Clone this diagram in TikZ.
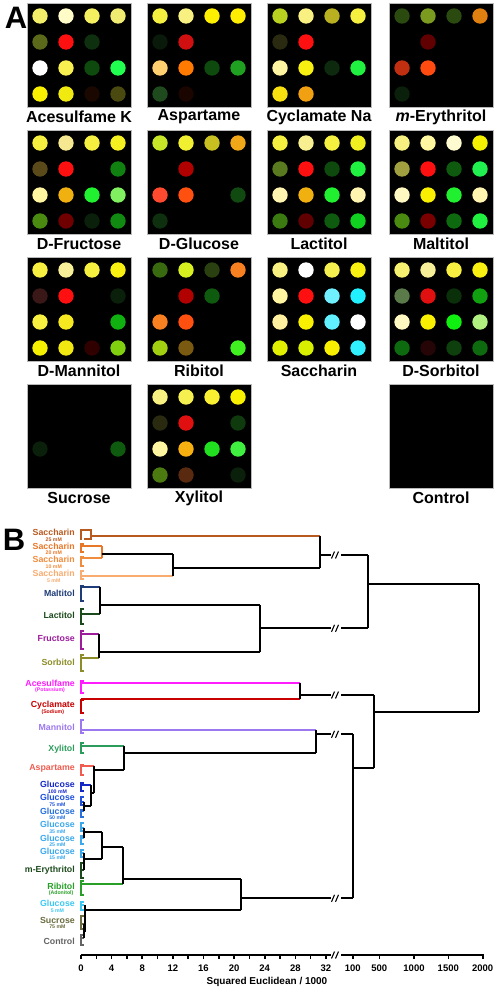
\documentclass[tikz,border=0pt]{standalone}
\usepackage{fontspec}
\setmainfont{Liberation Sans}
\newcommand\mypanel[5]{%
  \node[panelbox] (#1) at (#2+52,#3+52) {};
  \foreach \c [count=\i from 0] in {#5} {
    \pgfmathtruncatemacro\prow{int(\i/4)}
    \pgfmathtruncatemacro\pcol{mod(\i,4)}
    \definecolor{dotc}{HTML}{\c}
    \fill[dotc] (#2+13+26*\pcol, #3+13+26*\prow) circle[radius=7.7pt];
  }
  \node[plabel] (#1-lab) at (#2+52,#3+114) {#4};
}
\newcommand\leaf[4]{\node[leaflab,text=#3] (#1) at (75,#2) {#4};}
\newcommand\leafs[6]{\node[leaflab,text=#3] (#1) at (75,#2-0.5) {#4};
  \node[sublab,text=#3] (#1-s) at (#1.center |- 0,#2+6.3) {#6};}
\newcommand\brk[1]{\fill[white] (331,#1-5) rectangle (341,#1+5);
  \draw[line width=1.1pt] (331.5,#1+3.5) -- (334.5,#1-3.5) (335.5,#1+3.5) -- (338.5,#1-3.5);}
\newcommand\lfb[5]{% color, top, bottom, line y, end x
  \draw[dl,#1] (81,#2) -- (81,#3);
  \draw[dl,#1] (81,#4) -- (#5,#4);
  \draw[line width=1.2pt,#1] (81,#2+1) -- (84,#2+1) (81,#3-1) -- (84,#3-1);}
\definecolor{cSa}{HTML}{B85A20}
\definecolor{cSb}{HTML}{E87828}
\definecolor{cSc}{HTML}{F08C3C}
\definecolor{cSd}{HTML}{F8AC70}
\definecolor{cMal}{HTML}{1E3C78}
\definecolor{cLac}{HTML}{1C4A1C}
\definecolor{cFru}{HTML}{9C1C9C}
\definecolor{cSor}{HTML}{8C8C28}
\definecolor{cAce}{HTML}{FF1CFF}
\definecolor{cCyc}{HTML}{C80000}
\definecolor{cMan}{HTML}{9C78F0}
\definecolor{cXyl}{HTML}{2C9C5C}
\definecolor{cAsp}{HTML}{F05C50}
\definecolor{cGa}{HTML}{1428C8}
\definecolor{cGb}{HTML}{1E50DC}
\definecolor{cGc}{HTML}{2870DC}
\definecolor{cGd}{HTML}{3CA8EC}
\definecolor{cEry}{HTML}{1C4A1C}
\definecolor{cRib}{HTML}{28A028}
\definecolor{cGe}{HTML}{3CC8F0}
\definecolor{cSuc}{HTML}{6C6C40}
\definecolor{cCon}{HTML}{646464}
\begin{document}
\begin{tikzpicture}[x=1pt,y=-1pt,
  panelbox/.style={draw=gray!55, fill=black, line width=0.8pt, minimum width=104pt, minimum height=104pt, inner sep=0pt},
  plabel/.style={font=\fontsize{16}{18}\selectfont\bfseries, inner sep=0pt},
  bigletter/.style={font=\fontsize{31}{34}\selectfont\bfseries, inner sep=0pt},
  leaflab/.style={font=\fontsize{8.8}{10}\selectfont\bfseries, inner sep=0pt, anchor=east},
  sublab/.style={font=\fontsize{5.2}{6}\selectfont\bfseries, inner sep=0pt},
  dl/.style={line width=2pt},
  ticklab/.style={font=\fontsize{9.5}{11}\selectfont\bfseries, inner sep=0pt},
]
\useasboundingbox (0,0) rectangle (498,992);
\node[bigletter] (A) at (16,18) {A};
\node[bigletter] (B) at (14,540) {B};
% Row 1
\mypanel{ace}{27}{3}{Acesulfame K}{F2EE6A,FFFCC8,F5F060,F0EC72, 5A6A1A,FF1010,0F300F,000000, FFFFFF,F8F050,0E4A0E,20FF50, F8F000,F0EA10,1A0800,4A4A10}
\mypanel{asp}{147}{3}{Aspartame}{F5F040,F8F080,FFF000,FFEE00, 0A1A0A,D01010,000000,000000, FFD070,FF7A00,0E4A0E,20A020, 1E4A1E,1A0500,000000,000000}
\mypanel{cyc}{267}{3}{Cyclamate Na}{B8D020,F8F080,B8B020,F5F040, 2A2A10,FF1010,000000,000000, FFF4A0,F8F010,0E2A0E,20F040, F8E010,F0A010,000000,000000}
\mypanel{ery}{389}{3}{\textit{m}-Erythritol}{2A4A10,7A9A20,2A4A10,E08010, 000000,600000,000000,000000, C03010,FF4A10,000000,000000, 0A200A,000000,000000,000000}
% Row 2
\mypanel{fru}{27}{130}{D-Fructose}{F5F040,F5E890,F5F040,F5F020, 5A4A1A,FF1010,000000,108010, FFF4A0,F0B010,20F030,80F060, 4A8A10,700000,0A200A,108A10}
\mypanel{glu}{147}{130}{D-Glucose}{C8E628,F0F030,C8C020,F0A818, 000000,B00000,000000,000000, FF4A30,FF5010,000000,104A10, 0E300E,000000,000000,000000}
\mypanel{lac}{267}{130}{Lactitol}{F5F040,F8F090,F5F040,F0F020, 5A7A20,FF1010,0E4A0E,20F040, FFF4B0,F0B010,20F030,FFF4B0, 3A7A10,600000,0E5A0E,10D020}
\mypanel{mal}{389}{130}{Maltitol}{F5F080,FFF8A0,FFFBD0,F5F000, A0A040,FF1010,0E5A0E,20F050, FFF8C0,F8F000,20F030,FFF4B0, 4A8A10,7A0000,0E6A0E,20F040}
% Row 3
\mypanel{man}{27}{257}{D-Mannitol}{F8F040,F8F098,F5F040,F8F010, 3A1818,FF1010,000000,0A200A, F8F040,F5E820,000000,10B010, F5F000,F0E810,300000,80D010}
\mypanel{rib}{147}{257}{Ribitol}{3A6A10,D8F020,2A4010,F88020, 000000,B00000,0E5A0E,000000, F88020,FF5010,000000,000000, A0D010,7A5A10,000000,40F020}
\mypanel{sac}{267}{257}{Saccharin}{F8F080,FFFFFF,F5F050,F8F010, FFF4A0,FF1010,70F0FF,20F0FF, FFF0A0,F8F000,60F0FF,FFFFFF, E0F000,D8F000,F8F000,30F0FF}
\mypanel{sor}{389}{257}{D-Sorbitol}{F5F070,F8F098,F8F040,F8F010, 5A7A4A,E01010,0A300A,10A010, FFF8C0,F8F000,10F010,B0F080, 0E6A0E,250505,0E400E,0E6A0E}
% Row 4
\mypanel{suc}{27}{384}{Sucrose}{000000,000000,000000,000000, 000000,000000,000000,000000, 0A200A,000000,000000,0E5A0E, 000000,000000,000000,000000}
\mypanel{xyl}{147}{384}{Xylitol}{F8F080,F5F050,F8F030,F8F000, 2A2A10,E01010,000000,0E3A0E, FFF4A0,F8B010,20E020,40F040, 4A7A10,5A2A10,000000,0A200A}
\mypanel{con}{389}{384}{Control}{000000,000000,000000,000000, 000000,000000,000000,000000, 000000,000000,000000,000000, 000000,000000,000000,000000}
% ---------- Panel B labels
\leafs{S25}{533}{cSa}{Saccharin}{}{25 mM}
\leafs{S20}{546.5}{cSb}{Saccharin}{}{20 mM}
\leafs{S10}{560}{cSc}{Saccharin}{}{10 mM}
\leafs{S5}{574}{cSd}{Saccharin}{}{5 mM}
\leaf{Mal}{593.5}{cMal}{Maltitol}
\leaf{Lac}{615.7}{cLac}{Lactitol}
\leaf{Fru}{639}{cFru}{Fructose}
\leaf{Sor}{662}{cSor}{Sorbitol}
\leafs{Ace}{684}{cAce}{Acesulfame}{}{(Potassium)}
\leafs{Cyc}{705.7}{cCyc}{Cyclamate}{}{(Sodium)}
\leaf{Man}{727.3}{cMan}{Mannitol}
\leaf{Xyl}{749}{cXyl}{Xylitol}
\leaf{Asp}{768.3}{cAsp}{Aspartame}
\leafs{Ga}{785}{cGa}{Glucose}{}{100 mM}
\leafs{Gb}{798.3}{cGb}{Glucose}{}{75 mM}
\leafs{Gc}{811.7}{cGc}{Glucose}{}{50 mM}
\leafs{Gd}{825}{cGd}{Glucose}{}{35 mM}
\leafs{Ge}{838.5}{cGd}{Glucose}{}{25 mM}
\leafs{Gf}{851.7}{cGd}{Glucose}{}{15 mM}
\leaf{Ery}{870}{cEry}{m-Erythritol}
\leafs{Rib}{887}{cRib}{Ribitol}{}{(Adonitol)}
\leafs{Gg}{904}{cGe}{Glucose}{}{5 mM}
\leafs{Suc}{920.5}{cSuc}{Sucrose}{}{75 mM}
\leaf{Con}{941.7}{cCon}{Control}
% ---------- leaf brackets
\draw[dl,cSa] (81,529) -- (81,540);
\draw[dl,cSa] (81,530) -- (90.7,530) -- (90.7,539) -- (84,539);
\draw[dl,cSa] (90.7,535.7) -- (320,535.7);
\lfb{cSb}{543}{553}{546}{101.7}
\lfb{cSc}{556}{567}{557.7}{101.7}
\draw[dl,cSb] (101.7,546) -- (101.7,557.7);
\lfb{cSd}{570}{580}{576}{173}
\lfb{cMal}{585}{602}{586.7}{100}
\lfb{cLac}{608}{625}{614.3}{100}
\lfb{cFru}{630}{650}{634.3}{99}
\lfb{cSor}{654}{672}{658.3}{99}
\lfb{cAce}{680}{694}{682.7}{300}
\lfb{cCyc}{699}{714}{699.3}{300}
\lfb{cMan}{719}{734}{730}{316}
\lfb{cXyl}{742}{754}{746}{124}
\lfb{cAsp}{764}{776}{765.7}{94.3}
\lfb{cGa}{782}{792}{785}{91}
\lfb{cGb}{796}{806}{802}{84}
\lfb{cGc}{809}{818}{811}{84}
\lfb{cGd}{822}{832}{828}{84}
\lfb{cGd}{835}{845}{838}{84}
\lfb{cGd}{849}{858}{853}{84}
\lfb{cEry}{862}{879}{870}{84}
\lfb{cRib}{880}{896}{884}{122.7}
\lfb{cGe}{901}{911}{905}{84}
\lfb{cSuc}{915}{930}{924}{84}
\lfb{cCon}{934}{946}{938}{84}
% ---------- internal joins (black)
\draw[dl] (101.7,554.3) -- (173,554.3);
\draw[dl] (173,554.3) -- (173,576);
\draw[dl] (173,567.7) -- (320,567.7);
\draw[dl] (320,535.7) -- (320,567.7);
\draw[dl] (320,555) -- (368,555);
\draw[dl] (100,586.7) -- (100,614.3);
\draw[dl] (100,605) -- (260,605);
\draw[dl] (99,634.3) -- (99,658.3);
\draw[dl] (99,651.7) -- (260,651.7);
\draw[dl] (260,605) -- (260,651.7);
\draw[dl] (260,628.3) -- (368,628.3);
\draw[dl] (368,555) -- (368,628.3);
\draw[dl] (368,584.3) -- (479,584.3);
\draw[dl] (479,584.3) -- (479,712.3);
\draw[dl] (374,712.3) -- (479,712.3);
\draw[dl] (300,682.7) -- (300,699.3);
\draw[dl] (300,695) -- (374,695);
\draw[dl] (374,695) -- (374,767.7);
\draw[dl] (352.7,767.7) -- (374,767.7);
\draw[dl] (352.7,734.3) -- (352.7,898.3);
\draw[dl] (316,730) -- (316,752.7);
\draw[dl] (316,734.3) -- (352.7,734.3);
\draw[dl] (124,746) -- (124,770);
\draw[dl] (124,752.7) -- (316,752.7);
\draw[dl] (94.3,765.7) -- (94.3,793);
\draw[dl] (94.3,770) -- (124,770);
\draw[dl] (91,785) -- (91,806);
\draw[dl] (91,793) -- (94.3,793);
\draw[dl] (84,802) -- (84,811);
\draw[dl] (84,806) -- (91,806);
\draw[dl] (84,828) -- (84,838);
\draw[dl] (84,832.3) -- (101.7,832.3);
\draw[dl] (84,853) -- (84,870);
\draw[dl] (84,859) -- (101.7,859);
\draw[dl] (101.7,832.3) -- (101.7,859);
\draw[dl] (101.7,847.3) -- (122.7,847.3);
\draw[dl] (122.7,847.3) -- (122.7,884);
\draw[dl] (122.7,879) -- (240.7,879);
\draw[dl] (84,924) -- (84,938);
\draw[dl] (85,905) -- (85,932);
\draw[dl] (85,910) -- (240.7,910);
\draw[dl] (240.7,879) -- (240.7,910);
\draw[dl] (240.7,898.3) -- (352.7,898.3);
% ---------- axis
\draw[dl] (81,955) -- (341,955);
\draw[dl] (341,955) -- (483.5,955);
\foreach \v in {0,2,...,32} \draw[line width=1.6pt] (81+7.656*\v,955) -- (81+7.656*\v,959);
\foreach \v in {0,4,...,32} \node[ticklab] (t\v) at (81+7.656*\v,968) {\v};
\foreach \xx/\lab in {352.7/100,379.3/500,414/1000,448.3/1500,482.7/2000} {
  \draw[line width=1.6pt] (\xx,955) -- (\xx,959);
  \node[ticklab] (t\lab) at (\xx,968) {\lab};
}
\node[font=\fontsize{10}{12}\selectfont\bfseries, inner sep=0pt] (axtitle) at (267,982) {Squared Euclidean / 1000};
% ---------- breaks
\brk{555}
\brk{628.3}
\brk{695}
\brk{734.3}
\brk{898.3}
\brk{955}
\end{tikzpicture}
\end{document}
